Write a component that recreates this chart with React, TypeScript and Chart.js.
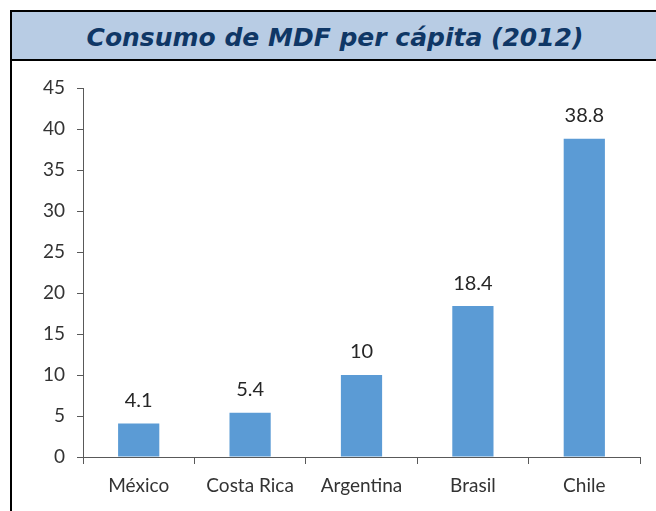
import React, { useEffect, useRef } from "react";
import { Chart, registerables } from "chart.js";

Chart.register(...registerables);

const titleText = "Consumo de MDF per cápita (2012)";
const categories = ["México", "Costa Rica", "Argentina", "Brasil", "Chile"];
const values = [4.1, 5.4, 10, 18.4, 38.8];
const yMin = 0;
const yMax = 45;
const yStep = 5;

const labelFont = "Lato, 'Open Sans', sans-serif";

export default function App() {
  const ref = useRef<HTMLCanvasElement | null>(null);

  useEffect(() => {
    if (!ref.current) return;
    const valueLabels = {
      id: "valueLabels",
      afterDatasetsDraw(chart: any) {
        const ctx = chart.ctx;
        const meta = chart.getDatasetMeta(0);
        ctx.save();
        ctx.font = `20px ${labelFont}`;
        ctx.fillStyle = "#262626";
        ctx.textAlign = "center";
        ctx.textBaseline = "bottom";
        meta.data.forEach((bar: any, i: number) => {
          ctx.fillText(String(values[i]), bar.x, bar.y - 13);
        });
        ctx.restore();
      },
    };
    const chart = new Chart(ref.current, {
      type: "bar",
      data: {
        labels: categories,
        datasets: [
          {
            data: values,
            backgroundColor: "#5B9BD5",
            borderWidth: 0,
            barPercentage: 0.37,
            categoryPercentage: 1,
          },
        ],
      },
      options: {
        animation: false,
        responsive: false,
        maintainAspectRatio: false,
        layout: { padding: { top: 27, right: 16, left: 0, bottom: 0 } },
        plugins: {
          legend: { display: false },
          tooltip: { enabled: false },
          title: { display: false },
        },
        scales: {
          x: {
            offset: true,
            grid: {
              offset: true,
              drawOnChartArea: false,
              drawTicks: true,
              tickLength: 7,
              color: "#595959",
            },
            border: { color: "#595959", width: 1 },
            ticks: {
              color: "#333333",
              font: { family: labelFont, size: 19 },
              padding: 10,
            },
            afterFit(scale: any) {
              scale.height = 54;
            },
          },
          y: {
            min: yMin,
            max: yMax,
            grid: {
              drawOnChartArea: false,
              drawTicks: true,
              tickLength: 6,
              color: "#595959",
            },
            border: { color: "#595959", width: 1 },
            ticks: {
              stepSize: yStep,
              color: "#333333",
              font: { family: labelFont, size: 19 },
              padding: 12,
            },
            afterFit(scale: any) {
              scale.width = 70;
            },
          },
        },
      },
      plugins: [valueLabels],
    });
    return () => chart.destroy();
  }, []);

  return (
    <div
      style={{
        position: "absolute",
        left: 0,
        top: 0,
        width: 656,
        height: 511,
        background: "#ffffff",
        overflow: "hidden",
      }}
    >
      <div
        style={{
          position: "absolute",
          left: 10,
          top: 10,
          width: 2,
          height: 501,
          background: "#000",
        }}
      />
      <div
        style={{
          position: "absolute",
          left: 10,
          top: 10,
          width: 660,
          height: 47,
          background: "#B8CCE4",
          borderTop: "2px solid #000",
          borderBottom: "2px solid #000",
          borderLeft: "2px solid #000",
          display: "flex",
          alignItems: "center",
          justifyContent: "center",
          boxSizing: "content-box",
        }}
      >
        <span
          style={{
            fontFamily: "'DejaVu Sans', Verdana, sans-serif",
            fontWeight: "bold",
            fontStyle: "italic",
            fontSize: 25,
            color: "#0F3766",
            position: "relative",
            left: -7,
            top: 2,
          }}
        >
          {titleText}
        </span>
      </div>
      <canvas
        ref={ref}
        width={643}
        height={450}
        style={{ position: "absolute", left: 13, top: 61, width: 643, height: 450 }}
      />
    </div>
  );
}
